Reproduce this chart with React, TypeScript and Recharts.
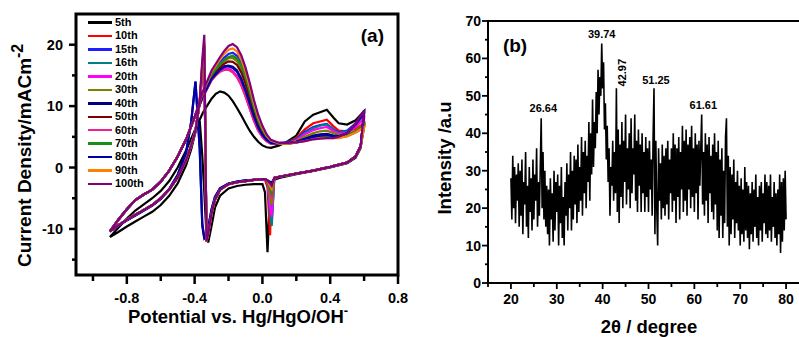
import React from 'react';
import { LineChart, Line, XAxis, YAxis, ReferenceArea, ReferenceDot, Legend, Label } from 'recharts';

const FONT = '"Liberation Sans", Arial, Helvetica, sans-serif';

// ---------- Panel (a): cyclic voltammograms ----------
const CYCLES = ['5th', '10th', '15th', '16th', '20th', '30th', '40th', '50th', '60th', '70th', '80th', '90th', '100th'];
const CYCLE_COLORS = ['#000000', '#ff0000', '#2020ff', '#008080', '#ff00ff', '#808000', '#000080', '#800000', '#f0208c', '#1a8c1a', '#0000a8', '#ff8000', '#800080'];

// potential grid (V) for each part of the closed loop
const CV_X_LOW = [-0.9, -0.85, -0.8, -0.75, -0.7, -0.65, -0.6, -0.55, -0.5, -0.45, -0.42, -0.395, -0.37, -0.355, -0.343];
const CV_X_CATH = [-0.33, -0.32, -0.3, -0.28, -0.25, -0.2, -0.15, -0.1, -0.05, 0.0, 0.015, 0.03, 0.045, 0.055, 0.07, 0.1, 0.2, 0.3, 0.4, 0.5, 0.55, 0.58];
const CV_X_ANOD = [0.6, 0.55, 0.5, 0.45, 0.42, 0.38, 0.34, 0.3, 0.25, 0.2, 0.15, 0.1,
  0.05, 0.025, 0.0, -0.025, -0.05, -0.075, -0.1, -0.125, -0.15, -0.175, -0.2, -0.225, -0.25, -0.275, -0.3, -0.35,
  -0.4, -0.45, -0.5, -0.55, -0.6, -0.65, -0.7, -0.75, -0.8, -0.85, -0.9];

const LOW_BAND_BLACK = [-11.3, -10.5, -9.6, -8.8, -8.0, -7.2, -6.1, -4.6, -2.6, 0.4, 3.0, 5.8];
const LOW_BAND_MAIN = [-10.4, -9.4, -8.5, -7.7, -6.9, -6.1, -5.0, -3.6, -1.6, 1.2, 3.6, 6.0];
const LOW_BAND_NAVY = [-10.4, -9.5, -8.6, -7.8, -7.0, -6.2, -5.1, -3.5, -1.2, 2.5, 7.5, 14.0];

const CATH_HEAD_BLACK = [-11.0, -12.2, -9.5, -6.5, -4.6, -3.4, -3.0, -2.8, -2.7, -2.7];
const CATH_HEAD_MAIN = [-12.0, -10.8, -7.5, -5.2, -3.6, -2.7, -2.4, -2.2, -2.0, -1.9];
const CATH_HEAD_NAVY = [-11.3, -9.8, -6.8, -4.8, -3.4, -2.6, -2.3, -2.1, -2.0, -1.9];
const CATH_TAIL_BLACK = [-2.0, -1.7, -1.1, -0.55, 0.0, 0.7, 1.6, 3.2];
const CATH_TAIL_MAIN = [-1.7, -1.5, -1.0, -0.5, 0.1, 0.8, 1.8, 3.5];

const UP_BAND_BLACK = [6.0, 2.8, 0.0, -2.2, -3.8, -5.0, -6.0, -7.0, -8.3, -9.8, -11.3];
const UP_BAND_MAIN = [8.2, 4.6, 1.8, -0.5, -2.3, -3.6, -4.4, -5.3, -6.8, -8.5, -10.4];

const BAND_KIND = [0, 1, 1, 1, 1, 1, 2, 1, 1, 1, 2, 1, 1];

const SPIKE_TAILS = [
  [7.6, 2.0, -4.0], [10.5, 15.0, 18.0], [10.6, 15.5, 19.0], [10.6, 16.0, 19.5], [10.5, 15.2, 18.5],
  [10.6, 16.0, 19.5], [3.0, -9.5, -11.6], [10.7, 16.5, 20.0], [10.6, 15.5, 19.0], [10.7, 16.5, 20.0],
  [3.2, -9.0, -11.4], [10.8, 17.0, 20.5], [10.9, 17.5, 21.6],
];

const DIPS = [
  [-4.0, -13.8, -4.0, -2.4], [-2.0, -3.2, -11.0, -4.0], [-1.9, -2.4, -7.0, -9.0], [-1.9, -2.4, -7.5, -9.5],
  [-1.9, -2.3, -6.5, -8.0], [-1.9, -2.2, -5.0, -6.0], [-1.9, -2.1, -2.3, -2.6], [-1.9, -2.2, -3.5, -4.0],
  [-1.9, -2.2, -4.2, -5.0], [-1.9, -2.2, -3.5, -4.2], [-1.9, -2.1, -2.8, -3.2], [-1.9, -2.1, -3.0, -3.5],
  [-1.9, -2.1, -2.6, -3.0],
];

const ANOD_RIGHT = [
  [9.2, 7.7, 7.0, 7.2, 8.1, 9.4, 9.0, 8.6, 7.5, 5.2, 4.3, 3.6],
  [7.2, 6.3, 5.9, 6.0, 6.7, 7.8, 7.5, 7.2, 6.2, 4.8, 4.1, 3.9],
  [9.0, 7.2, 6.0, 5.7, 6.2, 7.1, 6.9, 6.6, 5.8, 4.6, 4.1, 4.0],
  [8.6, 6.9, 5.8, 5.6, 6.1, 7.0, 6.8, 6.4, 5.6, 4.5, 4.0, 3.9],
  [8.0, 6.6, 5.6, 5.5, 5.9, 6.6, 6.4, 6.1, 5.4, 4.4, 4.0, 3.9],
  [7.0, 6.0, 5.4, 5.3, 5.6, 6.0, 5.9, 5.6, 5.0, 4.3, 4.0, 3.9],
  [9.0, 7.0, 5.6, 5.1, 5.2, 5.5, 5.4, 5.2, 4.7, 4.2, 4.0, 3.9],
  [6.8, 5.8, 5.2, 4.9, 4.9, 5.0, 4.9, 4.7, 4.4, 4.1, 3.9, 3.9],
  [6.5, 5.7, 5.1, 4.9, 4.9, 5.0, 4.9, 4.7, 4.4, 4.1, 3.9, 3.9],
  [6.8, 5.8, 5.2, 4.9, 4.9, 5.0, 4.9, 4.7, 4.4, 4.1, 3.9, 3.9],
  [9.2, 7.1, 5.6, 5.0, 5.1, 5.3, 5.2, 5.0, 4.6, 4.2, 4.0, 3.9],
  [6.6, 5.7, 5.1, 4.8, 4.8, 4.8, 4.8, 4.6, 4.3, 4.1, 3.9, 3.9],
  [9.3, 7.2, 5.6, 5.0, 4.8, 4.8, 4.7, 4.6, 4.3, 4.1, 4.0, 4.0],
];

const HUMPS = [
  [3.2, 3.3, 3.6, 4.2, 5.0, 6.0, 7.2, 8.5, 9.7, 10.8, 11.7, 12.2, 12.4, 12.0, 11.2, 9.0],
  [3.9, 4.3, 5.0, 6.1, 7.7, 9.7, 11.7, 13.5, 14.8, 15.6, 16.0, 16.0, 15.7, 15.1, 14.3, 11.6],
  [4.3, 5.0, 6.2, 7.8, 10.0, 12.6, 15.0, 17.0, 18.2, 18.7, 18.5, 17.9, 17.1, 16.2, 15.3, 12.1],
  [4.2, 4.9, 6.0, 7.5, 9.6, 12.0, 14.4, 16.3, 17.5, 18.0, 17.9, 17.4, 16.7, 15.9, 15.0, 12.0],
  [3.9, 4.3, 5.0, 6.1, 7.7, 9.7, 11.8, 13.6, 14.9, 15.7, 16.1, 16.1, 15.8, 15.2, 14.4, 11.6],
  [4.2, 4.9, 6.0, 7.5, 9.5, 11.9, 14.2, 16.1, 17.3, 17.8, 17.8, 17.3, 16.6, 15.8, 15.0, 12.0],
  [4.0, 4.5, 5.3, 6.6, 8.4, 10.5, 12.7, 14.5, 15.8, 16.4, 16.6, 16.5, 16.0, 15.3, 14.5, 11.8],
  [4.2, 4.8, 5.8, 7.2, 9.1, 11.4, 13.7, 15.5, 16.7, 17.2, 17.3, 16.9, 16.3, 15.6, 14.8, 11.9],
  [3.9, 4.3, 5.0, 6.0, 7.6, 9.6, 11.6, 13.4, 14.7, 15.5, 15.9, 15.9, 15.6, 15.0, 14.2, 11.5],
  [4.3, 5.0, 6.1, 7.7, 9.8, 12.3, 14.7, 16.6, 17.8, 18.2, 18.0, 17.5, 16.8, 16.0, 15.1, 12.0],
  [4.0, 4.5, 5.3, 6.5, 8.3, 10.4, 12.5, 14.3, 15.6, 16.2, 16.5, 16.4, 15.9, 15.2, 14.4, 11.7],
  [4.4, 5.2, 6.5, 8.2, 10.5, 13.2, 15.7, 17.6, 18.9, 19.4, 19.2, 18.5, 17.6, 16.6, 15.6, 12.3],
  [4.5, 5.4, 6.8, 8.6, 11.0, 13.8, 16.3, 18.3, 19.6, 20.1, 19.8, 19.0, 18.0, 16.9, 15.8, 12.5],
];

const CV_TICKS_X = [-1.0, -0.8, -0.6, -0.4, -0.2, 0.0, 0.2, 0.4, 0.6, 0.8];
const CV_MAJOR_X = [-0.8, -0.4, 0.0, 0.4, 0.8];
const CV_TICKS_Y = [-15, -10, -5, 0, 5, 10, 15, 20];
const CV_MAJOR_Y = [-10, 0, 10, 20];

function buildCycle(i: number) {
  const k = BAND_KIND[i];
  const low = [...[LOW_BAND_BLACK, LOW_BAND_MAIN, LOW_BAND_NAVY][k], ...SPIKE_TAILS[i]];
  const cath = [...[CATH_HEAD_BLACK, CATH_HEAD_MAIN, CATH_HEAD_NAVY][k], ...DIPS[i], ...(k === 0 ? CATH_TAIL_BLACK : CATH_TAIL_MAIN)];
  const anod = [...ANOD_RIGHT[i], ...HUMPS[i], ...(k === 0 ? UP_BAND_BLACK : UP_BAND_MAIN)];
  const pts: { x: number; y: number }[] = [];
  CV_X_LOW.forEach((x, j) => pts.push({ x, y: low[j] }));
  CV_X_CATH.forEach((x, j) => pts.push({ x, y: cath[j] }));
  CV_X_ANOD.forEach((x, j) => pts.push({ x, y: anod[j] }));
  return pts;
}

// ---------- Panel (b): XRD ----------
const XRD_START = 20;
const XRD_STEP = 0.2;
const XRD_INTENSITY = [
  28, 17, 34, 20, 31, 16, 29, 22, 32, 15,
  30, 18, 33, 13, 27, 21, 35, 15, 26, 12,
  31, 19, 28, 14, 33, 17, 29, 22, 36, 15,
  27, 18, 31, 44, 20, 35, 17, 30, 15, 26,
  13, 25, 10, 28, 17, 24, 11, 30, 14, 27,
  19, 29, 10, 26, 16, 31, 12, 23, 10, 27,
  18, 32, 14, 29, 20, 35, 14, 30, 17, 34,
  21, 33, 16, 37, 19, 31, 22, 39, 18, 35,
  24, 38, 20, 34, 27, 43, 22, 40, 29, 49,
  31, 43, 36, 51, 40, 57, 45, 55, 50, 64,
  52, 59, 41, 48, 33, 42, 27, 36, 18, 31,
  26, 38, 22, 35, 24, 52, 19, 41, 16, 37,
  23, 43, 20, 38, 27, 45, 21, 36, 25, 40,
  20, 44, 24, 36, 29, 45, 22, 38, 19, 41,
  26, 37, 19, 40, 24, 35, 19, 39, 23, 36,
  19, 38, 25, 33, 18, 39, 52, 13, 38, 20,
  10, 36, 22, 32, 17, 37, 20, 34, 18, 36,
  21, 38, 17, 33, 24, 36, 19, 40, 22, 37,
  16, 36, 23, 39, 17, 35, 25, 42, 19, 38,
  22, 41, 18, 37, 25, 39, 20, 42, 23, 36,
  19, 40, 24, 37, 17, 38, 26, 36, 45, 21,
  35, 18, 40, 22, 37, 16, 39, 24, 34, 19,
  37, 17, 40, 21, 35, 14, 38, 12, 33, 18,
  36, 12, 30, 16, 39, 44, 15, 34, 10, 31,
  13, 29, 17, 33, 12, 27, 16, 30, 14, 26,
  10, 28, 13, 25, 11, 31, 14, 27, 12, 26,
  9, 24, 13, 27, 11, 25, 15, 29, 12, 23,
  10, 26, 14, 27, 11, 24, 16, 29, 13, 27,
  12, 26, 14, 29, 11, 23, 15, 27, 12, 24,
  10, 25, 13, 29, 8, 27, 11, 28, 14, 30,
  17,
];
const XRD_ROWS = XRD_INTENSITY.map((v, i) => ({ angle: Math.round((XRD_START + XRD_STEP * i) * 10) / 10, intensity: v }));

const XRD_PEAK_LABELS = ['26.64', '39.74', '42.97', '51.25', '61.61'];
const XRD_PEAK_ANCHOR_X = [27.06, 39.79, 44.15, 51.63, 61.95];
const XRD_PEAK_ANCHOR_Y = [46.75, 66.5, 56.2, 54.2, 47.6];
const XRD_PEAK_ANGLE = [0, 0, -90, 0, 0];

const XRD_TICKS_X = [15, 20, 25, 30, 35, 40, 45, 50, 55, 60, 65, 70, 75, 80];
const XRD_MAJOR_X = [20, 30, 40, 50, 60, 70, 80];
const XRD_TICKS_Y = [0, 5, 10, 15, 20, 25, 30, 35, 40, 45, 50, 55, 60, 65, 70];
const XRD_MAJOR_Y = [0, 10, 20, 30, 40, 50, 60, 70];

// ---------- tick renderers ----------
const near = (list: number[], v: number) => list.some((m) => Math.abs(m - v) < 1e-6);

const CvXTick = (p: any) => {
  const v = p.payload.value;
  const major = near(CV_MAJOR_X, v);
  return (
    <g>
      <line x1={p.x} x2={p.x} y1={p.y} y2={p.y + (major ? 9 : 6)} stroke="#000" strokeWidth={2.5} />
      {major && (
        <text x={p.x} y={p.y + 28} textAnchor="middle" fontFamily={FONT} fontWeight="bold" fontSize={14.5} fill="#000">
          {Number(v).toFixed(1)}
        </text>
      )}
    </g>
  );
};

const CvYTick = (p: any) => {
  const v = p.payload.value;
  const major = near(CV_MAJOR_Y, v);
  return (
    <g>
      <line x1={p.x - (major ? 7 : 4)} x2={p.x} y1={p.y} y2={p.y} stroke="#000" strokeWidth={2.5} />
      {major && (
        <text x={p.x - 13} y={p.y + 5} textAnchor="end" fontFamily={FONT} fontWeight="bold" fontSize={14.5} fill="#000">
          {v}
        </text>
      )}
    </g>
  );
};

const XrdXTick = (p: any) => {
  const v = p.payload.value;
  const major = near(XRD_MAJOR_X, v);
  return (
    <g>
      <line x1={p.x} x2={p.x} y1={p.y} y2={p.y + (major ? 6 : 4)} stroke="#000" strokeWidth={1.8} />
      {major && (
        <text x={p.x} y={p.y + 20.5} textAnchor="middle" fontFamily={FONT} fontWeight="bold" fontSize={14} fill="#000">
          {v}
        </text>
      )}
    </g>
  );
};

const XrdYTick = (p: any) => {
  const v = p.payload.value;
  const major = near(XRD_MAJOR_Y, v);
  return (
    <g>
      <line x1={p.x - (major ? 6 : 3)} x2={p.x} y1={p.y} y2={p.y} stroke="#000" strokeWidth={1.8} />
      {major && (
        <text x={p.x - 7} y={p.y + 5} textAnchor="end" fontFamily={FONT} fontWeight="bold" fontSize={14} fill="#000">
          {v}
        </text>
      )}
    </g>
  );
};

const CvLegend = (props: any) => {
  const payload = [...(props.payload || [])].sort((a: any, b: any) => CYCLES.indexOf(a.value) - CYCLES.indexOf(b.value));
  return (
    <div style={{ fontFamily: FONT, fontWeight: 'bold', fontSize: 11, color: '#000' }}>
      {payload.map((p: any) => (
        <div key={p.value} style={{ height: 13.44, display: 'flex', alignItems: 'center' }}>
          <div style={{ width: 24, height: 2.5, background: p.color }} />
          <span style={{ marginLeft: 3, lineHeight: '13.44px' }}>{p.value}</span>
        </div>
      ))}
    </div>
  );
};

export default function App() {
  const cycles = CYCLES.map((_, i) => buildCycle(i));
  return (
    <div style={{ position: 'fixed', left: 0, top: 0, width: 799, height: 337, overflow: 'hidden', background: '#fff' }}>
      <div style={{ position: 'absolute', left: 0, top: 0 }}>
        <LineChart width={410} height={337} margin={{ top: 14, right: 12, bottom: 0, left: 0 }}>
          <XAxis
            type="number"
            dataKey="x"
            domain={[-1.1, 0.8]}
            ticks={CV_TICKS_X}
            interval={0}
            allowDataOverflow
            tick={(p: any) => <CvXTick {...p} />}
            tickLine={false}
            axisLine={false}
            tickSize={0}
            tickMargin={0}
            height={62}
          >
            <Label
              content={() => (
                <text x={128} y={323} fontFamily={FONT} fontWeight="bold" fontSize={18.5} fill="#000">
                  Potential vs. Hg/HgO/OH
                  <tspan dy={-8} fontSize={13}>-</tspan>
                </text>
              )}
            />
          </XAxis>
          <YAxis
            type="number"
            domain={[-17.5, 25]}
            ticks={CV_TICKS_Y}
            interval={0}
            allowDataOverflow
            tick={(p: any) => <CvYTick {...p} />}
            tickLine={false}
            axisLine={false}
            tickSize={0}
            tickMargin={0}
            width={76}
          >
            <Label
              content={() => (
                <text transform="translate(31,267) rotate(-90)" fontFamily={FONT} fontWeight="bold" fontSize={19} fill="#000">
                  Current Density/mACm
                  <tspan dy={-8} fontSize={16}>-2</tspan>
                </text>
              )}
            />
          </YAxis>
          {cycles.map((pts, i) => (
            <Line
              key={CYCLES[i]}
              data={pts}
              dataKey="y"
              name={CYCLES[i]}
              type="linear"
              stroke={CYCLE_COLORS[i]}
              strokeWidth={2.2}
              dot={false}
              activeDot={false}
              isAnimationActive={false}
            />
          ))}
          <ReferenceArea x1={-1.1} x2={0.8} y1={-17.5} y2={25} fill="none" fillOpacity={0} stroke="#000" strokeWidth={3} ifOverflow="visible" />
          <ReferenceDot
            x={0.649}
            y={21.5}
            r={0}
            fill="none"
            stroke="none"
            label={{ value: '(a)', position: 'center', fontFamily: FONT, fontWeight: 'bold', fontSize: 19, fill: '#000' }}
          />
          <Legend
            layout="vertical"
            align="center"
            verticalAlign="middle"
            itemSorter={null as any}
            content={(p: any) => <CvLegend {...p} />}
            wrapperStyle={{ left: 88, top: 16, width: 90, height: 180 }}
          />
        </LineChart>
      </div>
      <div style={{ position: 'absolute', left: 420, top: 0 }}>
        <LineChart width={400} height={337} data={XRD_ROWS} margin={{ top: 21, right: 11, bottom: 0, left: 0 }}>
          <XAxis
            type="number"
            dataKey="angle"
            domain={[15, 85]}
            ticks={XRD_TICKS_X}
            interval={0}
            allowDataOverflow
            tick={(p: any) => <XrdXTick {...p} />}
            tickLine={false}
            axisLine={false}
            tickSize={0}
            tickMargin={0}
            height={54}
          >
            <Label
              content={() => (
                <text x={229} y={333} textAnchor="middle" fontFamily={FONT} fontWeight="bold" fontSize={18.5} fill="#000">
                  2θ / degree
                </text>
              )}
            />
          </XAxis>
          <YAxis
            type="number"
            domain={[0, 70]}
            ticks={XRD_TICKS_Y}
            interval={0}
            allowDataOverflow
            tick={(p: any) => <XrdYTick {...p} />}
            tickLine={false}
            axisLine={false}
            tickSize={0}
            tickMargin={0}
            width={68}
          >
            <Label
              content={() => (
                <text transform="translate(31,158) rotate(-90)" textAnchor="middle" fontFamily={FONT} fontWeight="bold" fontSize={18.5} fill="#000">
                  Intensity /a.u
                </text>
              )}
            />
          </YAxis>
          <Line
            dataKey="intensity"
            type="linear"
            stroke="#000"
            strokeWidth={1.6}
            dot={false}
            activeDot={false}
            isAnimationActive={false}
          />
          <ReferenceArea x1={15} x2={85} y1={0} y2={70} fill="none" fillOpacity={0} stroke="#000" strokeWidth={2} ifOverflow="visible" />
          <ReferenceDot
            x={20.9}
            y={63.6}
            r={0}
            fill="none"
            stroke="none"
            label={{ value: '(b)', position: 'center', fontFamily: FONT, fontWeight: 'bold', fontSize: 19, fill: '#000' }}
          />
          {XRD_PEAK_LABELS.map((t, i) => (
            <ReferenceDot
              key={t}
              x={XRD_PEAK_ANCHOR_X[i]}
              y={XRD_PEAK_ANCHOR_Y[i]}
              r={0}
              fill="none"
              stroke="none"
              label={{ value: t, position: 'center', angle: XRD_PEAK_ANGLE[i], fontFamily: FONT, fontWeight: 'bold', fontSize: 11, fill: '#000' }}
            />
          ))}
        </LineChart>
      </div>
    </div>
  );
}
